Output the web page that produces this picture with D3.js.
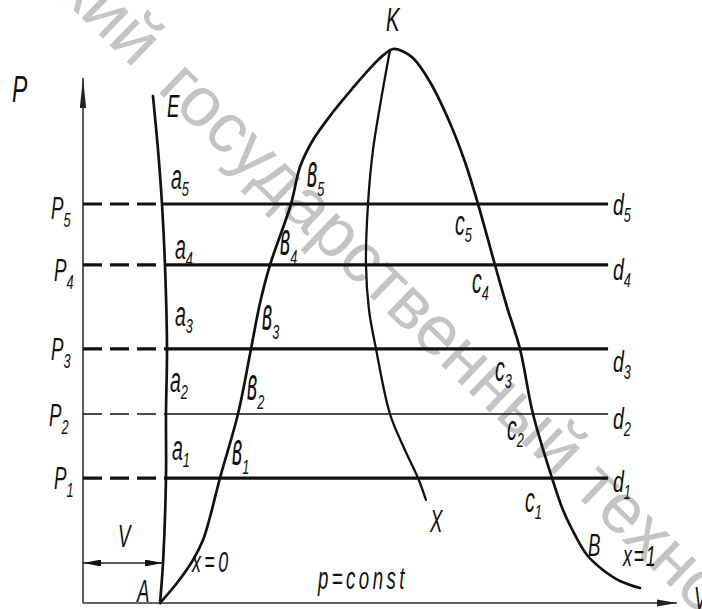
<!DOCTYPE html>
<html>
<head>
<meta charset="utf-8">
<script src="https://cdn.jsdelivr.net/npm/d3@7"></script>
<style>
  html, body { margin: 0; padding: 0; background: #fff; }
  svg { display: block; }
</style>
</head>
<body>
<svg id="chart" width="702" height="609"></svg>
<script>
// ---- data (v: specific volume, p: pressure, arbitrary units) ----
const levelNames = ["1", "2", "3", "4", "5"];
const levelP = [2.38, 3.60, 4.84, 6.44, 7.60];
// volume of the liquid line A–E at each isobar (points a1..a5)
const levelVa = [1.397, 1.397, 1.414, 1.380, 1.330];
const isobarEndV = 8.84;
// isobar P2 is drawn with a thinner pen
const levelWeight = ["thick", "thin", "thick", "thick", "thick"];

// liquid line A–E (compressed water)
const lineAEv = [1.296, 1.347, 1.397, 1.397, 1.414, 1.380, 1.330, 1.263, 1.178];
const lineAEp = [0.000, 0.762, 2.381, 3.600, 4.838, 6.438, 7.600, 8.629, 9.657];

// lower boundary curve x = 0, from A up to the critical point K
const satLiqV = [1.296, 1.582, 1.852, 2.020, 2.138, 2.306, 2.609, 2.828, 2.980, 3.148, 3.502, 3.653, 3.872, 4.209, 4.520, 4.820, 5.060, 5.219];
const satLiqP = [0.000, 0.381, 0.819, 1.200, 1.638, 2.381, 3.600, 4.838, 5.714, 6.438, 7.600, 8.305, 8.819, 9.352, 9.780, 10.170, 10.440, 10.552];

// upper boundary curve x = 1, from K down through B
const satVapV = [5.219, 5.380, 5.556, 5.842, 6.178, 6.431, 6.650, 6.936, 7.138, 7.357, 7.576, 7.896, 8.081, 8.283, 8.485, 8.754, 9.040, 9.377];
const satVapP = [10.552, 10.510, 10.381, 9.924, 9.143, 8.400, 7.600, 6.438, 5.638, 4.838, 3.600, 2.381, 1.771, 1.295, 0.914, 0.629, 0.419, 0.286];

// line of constant dryness K–X
const dryV = [5.168, 5.017, 4.882, 4.798, 4.764, 4.815, 4.933, 5.168, 5.404, 5.640, 5.774];
const dryP = [10.533, 9.581, 8.629, 7.600, 6.438, 5.581, 4.838, 3.600, 2.952, 2.381, 1.962];

// level at which the specific volume V of water is dimensioned
const dimP = 0.762;
const dimV = 1.347;

const axisMaxV = 10, axisMaxP = 10;

// ---- drawing ----
const svg = d3.select("#chart");
const x = d3.scaleLinear().domain([0, 10]).range([83, 677]);
const y = d3.scaleLinear().domain([0, 10]).range([603, 78]);

const FONT = "'Liberation Sans', Arial, sans-serif";
const zip = (vs, ps) => vs.map((v, i) => [v, ps[i]]);
const curve = d3.line().x(d => x(d[0])).y(d => y(d[1])).curve(d3.curveCatmullRom.alpha(0.5));
const straight = d3.line().x(d => x(d[0])).y(d => y(d[1]));

// watermark
const wm = svg.append("g").attr("transform", "translate(156,90) rotate(44)")
  .attr("fill", "#c4c4c4").attr("font-family", "'Liberation Sans', Arial, sans-serif").attr("font-size", 70);
wm.append("text").attr("x", -30).attr("text-anchor", "end").text("Белгородский");
wm.append("text").attr("x", 0).text("государственный технологический университет");

// arrow markers
const defs = svg.append("defs");
function marker(id, len, half, color) {
  defs.append("marker").attr("id", id)
    .attr("markerUnits", "userSpaceOnUse")
    .attr("viewBox", `0 ${-half} ${len} ${2 * half}`)
    .attr("refX", len).attr("refY", 0)
    .attr("markerWidth", len).attr("markerHeight", 2 * half)
    .attr("orient", "auto-start-reverse")
    .append("path").attr("d", `M0,${-half}L${len},0L0,${half}Z`).attr("fill", color);
}
marker("arrowV", 30, 3.2, "#222");
marker("arrowH", 20, 3.6, "#222");
marker("arrowDim", 18, 3.4, "#111");

// axes
svg.append("path").attr("d", straight([[0, 0], [0, axisMaxP]]))
  .attr("stroke", "#333").attr("stroke-width", 1.6).attr("fill", "none")
  .attr("marker-end", "url(#arrowV)");
svg.append("path").attr("d", straight([[0, 0], [axisMaxV, 0]]))
  .attr("stroke", "#333").attr("stroke-width", 1.6).attr("fill", "none")
  .attr("marker-end", "url(#arrowH)");

// isobars: dashed up to the liquid line, solid beyond it
levelP.forEach((p, i) => {
  const w = levelWeight[i] === "thin" ? 1.7 : 3.2;
  svg.append("path").attr("d", straight([[0, p], [levelVa[i], p]]))
    .attr("stroke", "#111").attr("stroke-width", w).attr("fill", "none")
    .attr("stroke-dasharray", "19,8");
  svg.append("path").attr("d", straight([[levelVa[i], p], [isobarEndV, p]]))
    .attr("stroke", "#111").attr("stroke-width", w).attr("fill", "none");
});

// curves
const curveStyle = sel => sel.attr("stroke", "#111").attr("stroke-width", 2.7)
  .attr("fill", "none").attr("stroke-linecap", "round").attr("stroke-linejoin", "round");
svg.append("path").attr("d", curve(zip(lineAEv, lineAEp))).call(curveStyle);
svg.append("path").attr("d", curve(zip(satLiqV, satLiqP).concat(zip(satVapV, satVapP).slice(1)))).call(curveStyle);
svg.append("path").attr("d", curve(zip(dryV, dryP))).call(curveStyle).attr("stroke-width", 2.3);

// dimension of V
svg.append("path").attr("d", straight([[0, dimP], [dimV, dimP]]))
  .attr("stroke", "#222").attr("stroke-width", 1.3).attr("fill", "none")
  .attr("marker-start", "url(#arrowDim)").attr("marker-end", "url(#arrowDim)");

// ---- labels (narrow italic lettering, stretched vertically) ----
const labels = svg.append("g").attr("font-family", FONT).attr("font-style", "italic").attr("fill", "#111");
function label(px, py, main, sub, o = {}) {
  const fs = o.fs || 21, sy = o.sy || 1.4, sx = o.sx || 0.85;
  const g = labels.append("g").attr("transform", `translate(${px},${py})`);
  const t = g.append("text").attr("transform", `scale(${sx},${sy})`).attr("font-size", fs).text(main);
  if (o.ls) t.attr("letter-spacing", o.ls);
  if (sub) {
    const w = t.node().getComputedTextLength() * sx;
    g.append("text").attr("transform", `translate(${w + (o.sdx || 0)},${o.sdy || 8}) scale(0.85,1.4)`)
      .attr("font-size", o.sfs || 15).text(sub);
  }
}

label(12, 102, "P", null, { fs: 27 });
label(167, 117, "E", null, { fs: 22 });
label(386, 31, "K", null, { fs: 24 });

const pPos = [[54, 489], [49, 426], [51, 360], [54, 281], [51, 219]];
const aPos = [[172, 460], [170, 392], [175, 326], [175, 259], [171, 189]];
const bPos = [[232, 465], [247, 400], [262, 330], [280, 255], [307, 187]];
const cPos = [[525, 512], [507, 440], [495, 381], [472, 293], [455, 235]];
const dPos = [[613, 492], [613, 429], [613, 372], [613, 280], [613, 215]];

levelNames.forEach((n, i) => {
  label(pPos[i][0], pPos[i][1], "P", n, { fs: 22, sdy: 8, sdx: 0 });
  label(aPos[i][0], aPos[i][1], "a", n, { fs: 23, sy: 1.5, sdy: 7 });
  label(bPos[i][0], bPos[i][1], "в", n, { fs: 23, sy: 2.0, sdy: 9 });
  label(cPos[i][0], cPos[i][1], "c", n, { fs: 23, sy: 1.5, sdy: 7 });
  label(dPos[i][0], dPos[i][1], "d", n, { fs: 23, sy: 1.3, sdy: 7 });
});

label(430, 532, "X", null, { fs: 22 });
label(588, 556, "B", null, { fs: 22 });
label(623, 566, "x=1", null, { fs: 21, ls: 2 });
label(192, 572, "x=0", null, { fs: 21, ls: 4 });
label(137, 602, "A", null, { fs: 22 });
label(118, 547, "V", null, { fs: 22 });
label(694, 609, "V", null, { fs: 22 });
label(318, 589, "p=const", null, { fs: 22, ls: 4 });
</script>
</body>
</html>
